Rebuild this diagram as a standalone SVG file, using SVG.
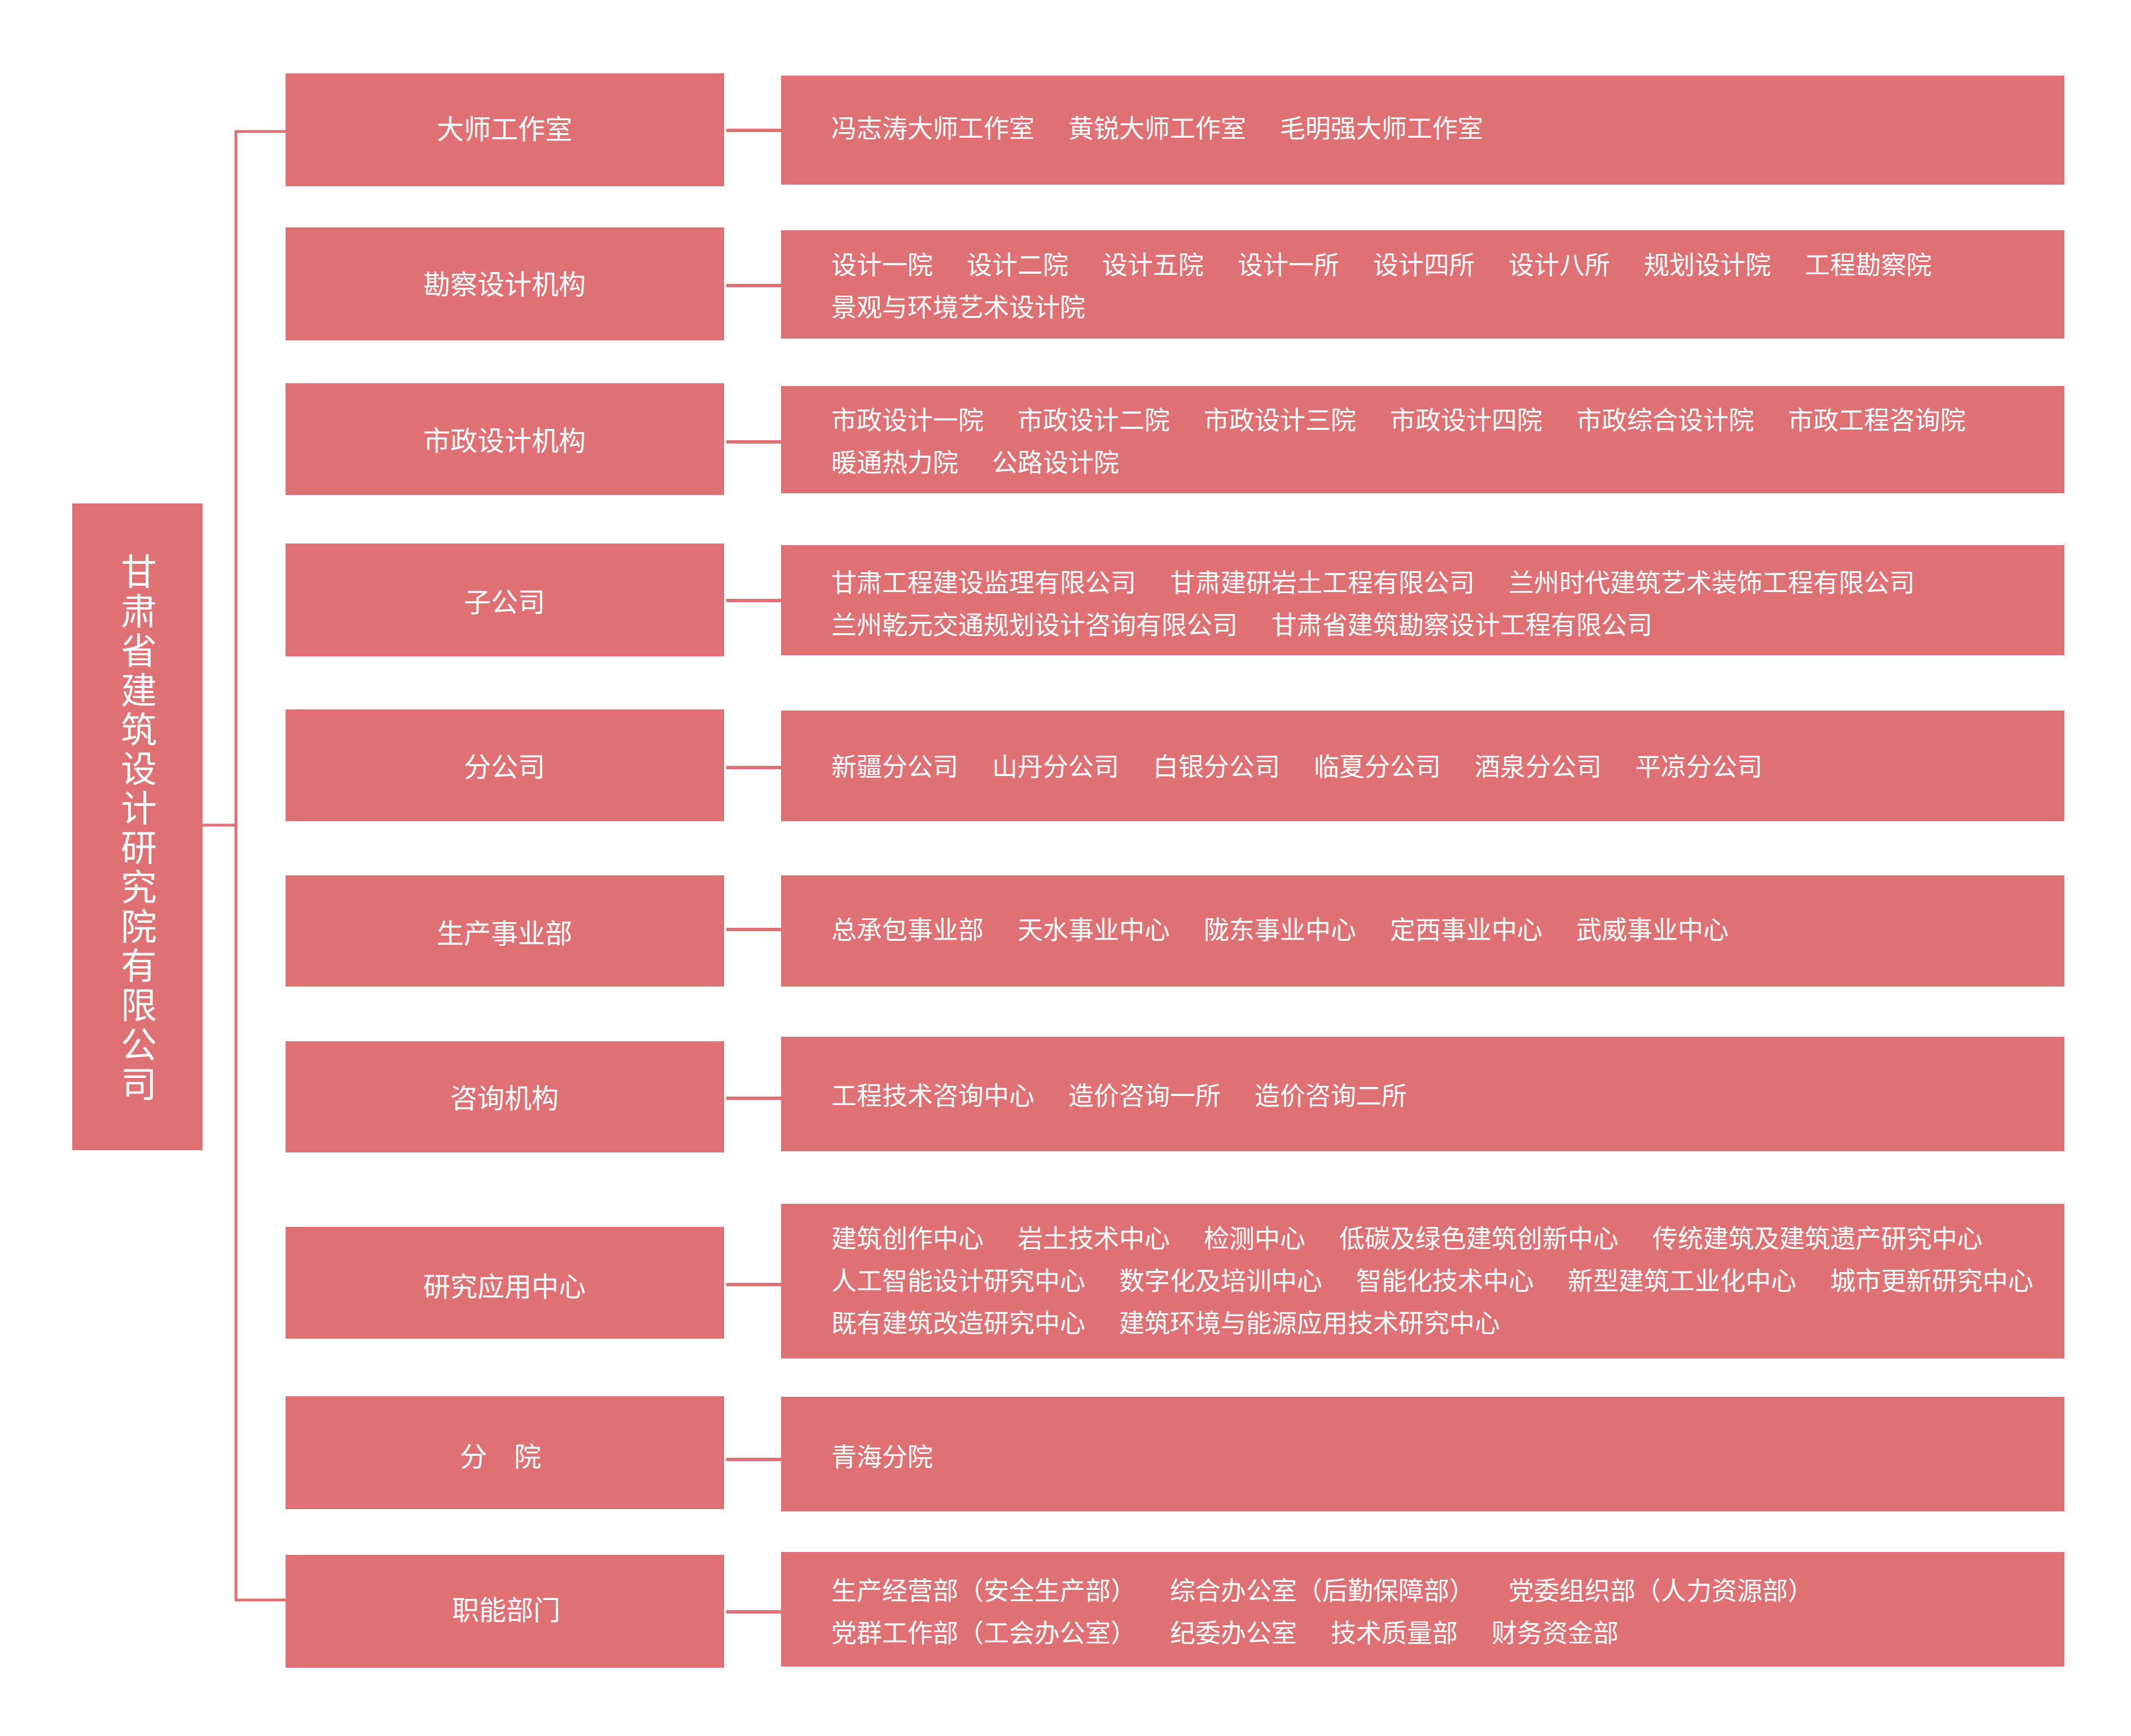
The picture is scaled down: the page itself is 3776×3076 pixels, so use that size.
<svg xmlns="http://www.w3.org/2000/svg" width="3776" height="3076" viewBox="0 0 3776 3076">
<style>
.box{fill:#DF7073}
.ln{stroke:#DF7073;fill:none}
.t{font-family:"Noto Sans CJK SC","Noto Sans",sans-serif;fill:#ffffff}
.m{font-size:48px;text-anchor:middle}
.r{font-size:45px}
.v{font-size:64px;writing-mode:vertical-rl;letter-spacing:5.8px}
</style>
<rect x="0" y="0" width="3776" height="3076" fill="#ffffff"/>
<g id="connectors">
<path class="ln" stroke-width="5" d="M506 233 H418 V2835 H506"/>
<path class="ln" stroke-width="5" d="M359 1462 H418"/>
<g stroke-width="6" class="ln">
<path d="M1287 231 H1384"/>
<path d="M1287 506 H1384"/>
<path d="M1287 783 H1384"/>
<path d="M1287 1064 H1384"/>
<path d="M1287 1360 H1384"/>
<path d="M1287 1647 H1384"/>
<path d="M1287 1946 H1384"/>
<path d="M1287 2276 H1384"/>
<path d="M1287 2586 H1384"/>
<path d="M1287 2856 H1384"/>
</g>
</g>
<g id="root">
<rect class="box" x="128" y="892" width="231" height="1146"/>
<text class="t v" x="246" y="980">甘肃省建筑设计研究院有限公司</text>
</g>
<g id="n1"><rect class="box" x="506" y="130" width="777" height="200"/><text class="t m" x="894" y="246">大师工作室</text></g>
<g id="n2"><rect class="box" x="506" y="403" width="777" height="200"/><text class="t m" x="894" y="521">勘察设计机构</text></g>
<g id="n3"><rect class="box" x="506" y="679" width="777" height="198"/><text class="t m" x="894" y="798">市政设计机构</text></g>
<g id="n4"><rect class="box" x="506" y="963" width="777" height="200"/><text class="t m" x="894" y="1084">子公司</text></g>
<g id="n5"><rect class="box" x="506" y="1257" width="777" height="198"/><text class="t m" x="894" y="1376">分公司</text></g>
<g id="n6"><rect class="box" x="506" y="1551" width="777" height="197"/><text class="t m" x="894" y="1671">生产事业部</text></g>
<g id="n7"><rect class="box" x="506" y="1845" width="777" height="197"/><text class="t m" x="894" y="1963">咨询机构</text></g>
<g id="n8"><rect class="box" x="506" y="2174" width="777" height="198"/><text class="t m" x="894" y="2297">研究应用中心</text></g>
<g id="n9"><rect class="box" x="506" y="2474" width="777" height="200"/><text class="t m" x="887" y="2598">分　院</text></g>
<g id="n10"><rect class="box" x="506" y="2755" width="777" height="200"/><text class="t m" x="897" y="2870">职能部门</text></g>

<g id="d1"><rect class="box" x="1384" y="134" width="2274" height="193"/>
<text class="t r" y="244"><tspan x="1473">冯志涛大师工作室</tspan><tspan x="1893">黄锐大师工作室</tspan><tspan x="2268">毛明强大师工作室</tspan></text></g>
<g id="d2"><rect class="box" x="1384" y="408" width="2274" height="192"/>
<text class="t r" y="486"><tspan x="1473">设计一院</tspan><tspan x="1713">设计二院</tspan><tspan x="1953">设计五院</tspan><tspan x="2193">设计一所</tspan><tspan x="2433">设计四所</tspan><tspan x="2673">设计八所</tspan><tspan x="2913">规划设计院</tspan><tspan x="3198">工程勘察院</tspan></text>
<text class="t r" x="1473" y="561">景观与环境艺术设计院</text></g>
<g id="d3"><rect class="box" x="1384" y="684" width="2274" height="190"/>
<text class="t r" y="761"><tspan x="1473">市政设计一院</tspan><tspan x="1803">市政设计二院</tspan><tspan x="2133">市政设计三院</tspan><tspan x="2463">市政设计四院</tspan><tspan x="2793">市政综合设计院</tspan><tspan x="3168">市政工程咨询院</tspan></text>
<text class="t r" y="836"><tspan x="1473">暖通热力院</tspan><tspan x="1758">公路设计院</tspan></text></g>
<g id="d4"><rect class="box" x="1384" y="966" width="2274" height="195"/>
<text class="t r" y="1049"><tspan x="1473">甘肃工程建设监理有限公司</tspan><tspan x="2073">甘肃建研岩土工程有限公司</tspan><tspan x="2673">兰州时代建筑艺术装饰工程有限公司</tspan></text>
<text class="t r" y="1124"><tspan x="1473">兰州乾元交通规划设计咨询有限公司</tspan><tspan x="2253">甘肃省建筑勘察设计工程有限公司</tspan></text></g>
<g id="d5"><rect class="box" x="1384" y="1259" width="2274" height="196"/>
<text class="t r" y="1375"><tspan x="1473">新疆分公司</tspan><tspan x="1758">山丹分公司</tspan><tspan x="2043">白银分公司</tspan><tspan x="2328">临夏分公司</tspan><tspan x="2613">酒泉分公司</tspan><tspan x="2898">平凉分公司</tspan></text></g>
<g id="d6"><rect class="box" x="1384" y="1551" width="2274" height="197"/>
<text class="t r" y="1664"><tspan x="1473">总承包事业部</tspan><tspan x="1803">天水事业中心</tspan><tspan x="2133">陇东事业中心</tspan><tspan x="2463">定西事业中心</tspan><tspan x="2793">武威事业中心</tspan></text></g>
<g id="d7"><rect class="box" x="1384" y="1837" width="2274" height="203"/>
<text class="t r" y="1958"><tspan x="1473">工程技术咨询中心</tspan><tspan x="1893">造价咨询一所</tspan><tspan x="2223">造价咨询二所</tspan></text></g>
<g id="d8"><rect class="box" x="1384" y="2133" width="2274" height="274"/>
<text class="t r" y="2211"><tspan x="1473">建筑创作中心</tspan><tspan x="1803">岩土技术中心</tspan><tspan x="2133">检测中心</tspan><tspan x="2373">低碳及绿色建筑创新中心</tspan><tspan x="2928">传统建筑及建筑遗产研究中心</tspan></text>
<text class="t r" y="2286"><tspan x="1473">人工智能设计研究中心</tspan><tspan x="1983">数字化及培训中心</tspan><tspan x="2403">智能化技术中心</tspan><tspan x="2778">新型建筑工业化中心</tspan><tspan x="3243">城市更新研究中心</tspan></text>
<text class="t r" y="2361"><tspan x="1473">既有建筑改造研究中心</tspan><tspan x="1983">建筑环境与能源应用技术研究中心</tspan></text></g>
<g id="d9"><rect class="box" x="1384" y="2475" width="2274" height="203"/>
<text class="t r" x="1473" y="2598">青海分院</text></g>
<g id="d10"><rect class="box" x="1384" y="2750" width="2274" height="203"/>
<text class="t r" y="2835"><tspan x="1473">生产经营部（安全生产部）</tspan><tspan x="2073">综合办公室（后勤保障部）</tspan><tspan x="2673">党委组织部（人力资源部）</tspan></text>
<text class="t r" y="2910"><tspan x="1473">党群工作部（工会办公室）</tspan><tspan x="2073">纪委办公室</tspan><tspan x="2358">技术质量部</tspan><tspan x="2643">财务资金部</tspan></text></g>
</svg>
